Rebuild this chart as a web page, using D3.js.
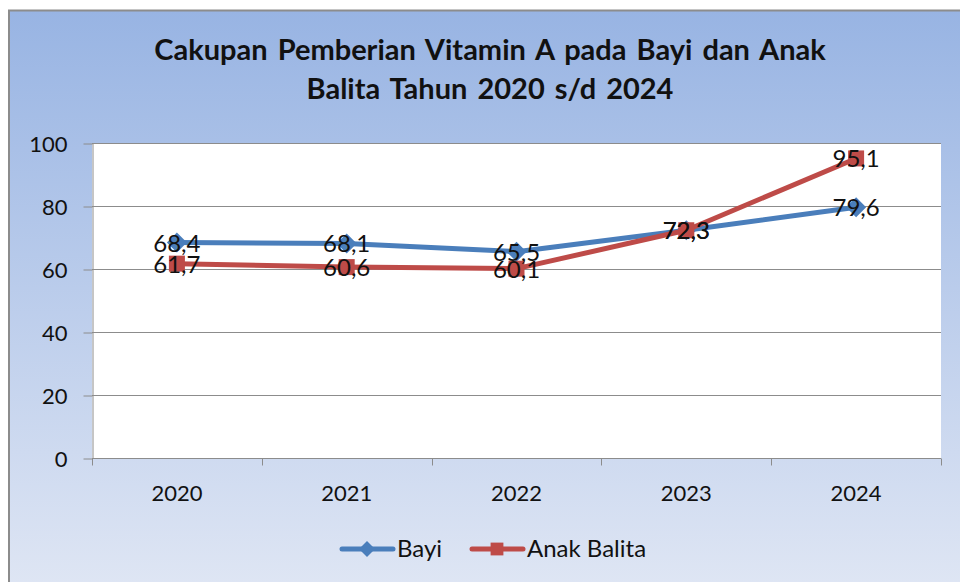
<!DOCTYPE html>
<html>
<head>
<meta charset="utf-8">
<script src="https://cdn.jsdelivr.net/npm/d3@7"></script>
<style>
  body { margin: 0; background: #fff; }
  svg { display: block; font-family: Lato, "Open Sans", sans-serif; }
</style>
</head>
<body>
<svg id="chart"></svg>
<script>
// Data
const years = ["2020", "2021", "2022", "2023", "2024"];
const bayi = [68.4, 68.1, 65.5, 72.3, 79.6];
const anakBalita = [61.7, 60.6, 60.1, 72.3, 95.1];
const yTicks = [0, 20, 40, 60, 80, 100];
const titleLines = ["Cakupan Pemberian Vitamin A pada Bayi dan Anak", "Balita Tahun 2020 s/d 2024"];

const series = [
    { name: "Bayi", values: bayi, color: "#4a7ebb", marker: "diamond" },
    { name: "Anak Balita", values: anakBalita, color: "#be4b48", marker: "square" }
];

const width = 960, height = 582;
const plot = { left: 92, right: 941, top: 143, bottom: 458 };

const svg = d3.select("#chart")
    .attr("width", width)
    .attr("height", height);

// background gradient
const grad = svg.append("defs").append("linearGradient")
    .attr("id", "bg")
    .attr("x1", 0).attr("y1", 0).attr("x2", 0).attr("y2", 1);
grad.append("stop").attr("offset", "0%").attr("stop-color", "#98b4e3");
grad.append("stop").attr("offset", "100%").attr("stop-color", "#dfe6f4");

svg.append("rect")
    .attr("x", 9).attr("y", 10.5)
    .attr("width", 960).attr("height", 580)
    .attr("fill", "url(#bg)")
    .attr("stroke", "#8c8c8c")
    .attr("stroke-width", 2);

// title
svg.append("text")
    .attr("x", 490)
    .attr("text-anchor", "middle")
    .attr("font-size", 29)
    .attr("font-weight", "bold")
    .attr("word-spacing", 3)
    .attr("fill", "#111")
    .selectAll("tspan")
    .data(titleLines)
    .enter().append("tspan")
    .attr("x", 490)
    .attr("y", (d, i) => 60 + i * 39)
    .text(d => d);

// plot area
svg.append("rect")
    .attr("x", plot.left).attr("y", plot.top)
    .attr("width", plot.right - plot.left)
    .attr("height", plot.bottom - plot.top)
    .attr("fill", "#fff");

// scales
const x = d3.scaleBand().domain(years).range([plot.left, plot.right]);
const y = d3.scaleLinear().domain([0, 100]).range([plot.bottom, plot.top]);

// gridlines
svg.append("g")
    .selectAll("line")
    .data(yTicks)
    .enter().append("line")
    .attr("x1", plot.left).attr("x2", plot.right)
    .attr("y1", d => Math.round(y(d)) + 0.5)
    .attr("y2", d => Math.round(y(d)) + 0.5)
    .attr("stroke", "#8c8c8c")
    .attr("stroke-width", 1);

// y axis
const yAxis = svg.append("g")
    .attr("transform", "translate(" + (plot.left + 0.5) + ",0.5)")
    .call(d3.axisLeft(y).tickValues(yTicks).tickSize(9).tickPadding(16).tickSizeOuter(0));
yAxis.select(".domain").attr("stroke", "#8c8c8c");
yAxis.selectAll(".tick line").attr("stroke", "#8c8c8c");
yAxis.selectAll("text")
    .attr("font-size", 22)
    .attr("font-family", "Lato, sans-serif")
    .attr("fill", "#111")
    .attr("dy", "0.35em");

// x axis with ticks between categories
const xAxis = svg.append("g")
    .attr("transform", "translate(0," + (plot.bottom + 0.5) + ")");
xAxis.append("line")
    .attr("x1", plot.left).attr("x2", plot.right)
    .attr("stroke", "#8c8c8c");
xAxis.selectAll(".tk")
    .data(years.concat(["end"]))
    .enter().append("line")
    .attr("class", "tk")
    .attr("x1", (d, i) => Math.round(plot.left + i * x.bandwidth()) + 0.5)
    .attr("x2", (d, i) => Math.round(plot.left + i * x.bandwidth()) + 0.5)
    .attr("y1", 0).attr("y2", 7)
    .attr("stroke", "#8c8c8c");
xAxis.selectAll(".lbl")
    .data(years)
    .enter().append("text")
    .attr("class", "lbl")
    .attr("x", d => x(d) + x.bandwidth() / 2)
    .attr("y", 42)
    .attr("text-anchor", "middle")
    .attr("font-size", 22)
    .attr("fill", "#111")
    .text(d => d);

// lines
const line = d3.line()
    .x((d, i) => x(years[i]) + x.bandwidth() / 2)
    .y(d => y(d));

function drawMarker(g, type, color, size) {
    if (type === "diamond") {
        g.append("path")
            .attr("d", "M0," + (-size) + "L" + size + ",0L0," + size + "L" + (-size) + ",0Z")
            .attr("fill", color);
    } else {
        g.append("rect")
            .attr("x", -size * 0.8).attr("y", -size * 0.8)
            .attr("width", size * 1.6).attr("height", size * 1.6)
            .attr("fill", color);
    }
}

series.forEach(s => {
    svg.append("path")
        .datum(s.values)
        .attr("d", line)
        .attr("fill", "none")
        .attr("stroke", s.color)
        .attr("stroke-width", 5)
        .attr("stroke-linejoin", "round")
        .attr("stroke-linecap", "round");
    s.values.forEach((v, i) => {
        const g = svg.append("g")
            .attr("transform", "translate(" + (x(years[i]) + x.bandwidth() / 2) + "," + y(v) + ")");
        drawMarker(g, s.marker, s.color, 10);
    });
});

// data labels
const fmt = v => d3.format(".1f")(v).replace(".", ",");
series.forEach(s => {
    svg.append("g")
        .selectAll("text")
        .data(s.values)
        .enter().append("text")
        .attr("x", (d, i) => x(years[i]) + x.bandwidth() / 2)
        .attr("y", d => y(d) + 9)
        .attr("text-anchor", "middle")
        .attr("font-size", 24)
        .attr("fill", "#111")
        .text(d => fmt(d));
});

// legend
const legend = svg.append("g").attr("transform", "translate(0,549)");
const legendItems = [
    { s: series[0], x: 340 },
    { s: series[1], x: 470 }
];
legendItems.forEach(item => {
    const g = legend.append("g").attr("transform", "translate(" + item.x + ",0)");
    g.append("line")
        .attr("x1", 2).attr("x2", 53)
        .attr("stroke", item.s.color)
        .attr("stroke-width", 5)
        .attr("stroke-linecap", "round");
    const m = g.append("g").attr("transform", "translate(27,0)");
    drawMarker(m, item.s.marker, item.s.color, 8);
    g.append("text")
        .attr("x", 57)
        .attr("y", 8)
        .attr("font-size", 24)
        .attr("fill", "#111")
        .text(item.s.name);
});
</script>
</body>
</html>
